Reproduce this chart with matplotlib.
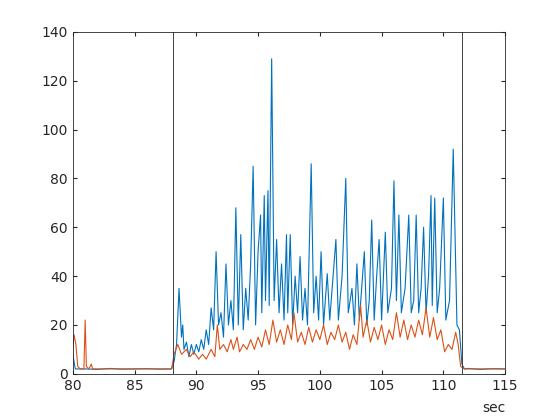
import matplotlib
matplotlib.use("Agg")
import matplotlib.pyplot as plt

blue_t = [80.0, 80.1, 80.2, 81, 82, 83, 84, 85, 86, 87, 88.0, 88.2, 88.4, 88.6, 88.8, 88.9, 89.0, 89.2, 89.4, 89.6, 89.8, 90.0, 90.2, 90.4, 90.6, 90.8, 91.0, 91.2, 91.4, 91.6, 91.8, 92.0, 92.2, 92.4, 92.6, 92.8, 93.0, 93.2, 93.4, 93.6, 93.8, 94.0, 94.2, 94.4, 94.6, 94.8, 95.0, 95.2, 95.3, 95.5, 95.6, 95.8, 95.9, 96.1, 96.3, 96.5, 96.7, 96.9, 97.1, 97.3, 97.4, 97.6, 97.8, 98.0, 98.2, 98.4, 98.6, 98.8, 99.0, 99.3, 99.5, 99.7, 99.9, 100.1, 100.3, 100.6, 100.8, 101.0, 101.3, 101.5, 101.8, 102.1, 102.3, 102.6, 102.8, 103.0, 103.2, 103.6, 103.8, 104.0, 104.2, 104.4, 104.6, 104.8, 105.0, 105.3, 105.5, 105.8, 106.0, 106.2, 106.4, 106.6, 106.9, 107.2, 107.4, 107.6, 107.8, 108.0, 108.2, 108.4, 108.6, 108.8, 109.0, 109.1, 109.3, 109.5, 109.7, 110.0, 110.2, 110.5, 110.8, 111.0, 111.1, 111.3, 111.5, 111.7, 112, 113, 114, 115]
blue_v = [8, 5, 2, 2, 1.8, 2.2, 1.9, 2, 2.1, 1.9, 2, 5, 12, 35, 15, 20, 10, 13, 7, 12, 8, 12, 9, 14, 10, 18, 12, 27, 18, 50, 20, 25, 15, 45, 20, 30, 18, 68, 20, 57, 18, 35, 22, 45, 85, 20, 50, 65, 25, 73, 30, 75, 28, 129, 30, 55, 25, 45, 22, 57, 25, 57, 20, 40, 25, 48, 22, 35, 20, 86, 25, 40, 22, 50, 20, 41, 22, 35, 55, 22, 40, 80, 25, 35, 20, 45, 22, 50, 20, 30, 63, 22, 40, 55, 22, 58, 25, 35, 79, 30, 65, 25, 35, 65, 25, 30, 65, 25, 35, 60, 25, 40, 73, 28, 72, 25, 35, 72, 22, 30, 92, 45, 20, 18, 4, 2, 2.2, 1.8, 2.1, 2]

orange_t = [80.0, 80.1, 80.25, 80.4, 80.6, 80.9, 81.0, 81.1, 81.3, 81.5, 81.6, 83, 85, 87, 88.0, 88.2, 88.5, 88.8, 89.2, 89.5, 89.8, 90.2, 90.5, 90.8, 91.2, 91.5, 91.7, 91.9, 92.2, 92.5, 92.8, 93.0, 93.3, 93.5, 93.8, 94.1, 94.4, 94.7, 95.0, 95.3, 95.6, 95.9, 96.2, 96.5, 96.8, 97.1, 97.4, 97.7, 97.9, 98.2, 98.5, 98.8, 99.1, 99.4, 99.7, 100.0, 100.3, 100.6, 100.9, 101.2, 101.5, 101.8, 102.1, 102.4, 102.7, 103.0, 103.3, 103.5, 103.8, 104.1, 104.4, 104.7, 105.0, 105.3, 105.6, 105.9, 106.2, 106.5, 106.8, 107.1, 107.4, 107.7, 108.0, 108.3, 108.6, 108.9, 109.2, 109.5, 109.8, 110.1, 110.4, 110.7, 111.0, 111.2, 111.4, 111.7, 113, 115]
orange_v = [10, 16, 12, 3, 2, 2, 22, 3, 2, 4, 2, 2, 2, 2, 2, 8, 12, 8, 10, 7, 9, 6, 8, 6, 10, 7, 20, 10, 12, 9, 14, 10, 15, 9, 12, 10, 14, 10, 15, 11, 18, 12, 22, 13, 18, 12, 20, 14, 25, 13, 17, 12, 19, 13, 18, 14, 20, 12, 17, 14, 20, 13, 17, 10, 16, 12, 28, 15, 22, 13, 19, 14, 20, 12, 18, 14, 25, 15, 22, 14, 20, 15, 22, 16, 27, 15, 23, 14, 18, 9, 12, 10, 17, 12, 3, 2, 2, 2]

vlines = [88.1, 111.5]

fig = plt.figure(figsize=(5.6, 4.2), dpi=100)
ax = fig.add_axes([0.13, 0.11, 0.772, 0.814])
ax.plot(blue_t, blue_v, color='#0072BD', lw=0.8)
ax.plot(orange_t, orange_v, color='#D95319', lw=0.8)
for v in vlines:
    ax.axvline(v, color='#404040', lw=0.7)
ax.set_xlim(80, 115)
ax.set_ylim(0, 140)
ax.set_xticks(range(80, 116, 5))
ax.set_yticks(range(0, 141, 20))
ax.tick_params(direction='in', length=3, labelsize=10, colors='#262626', top=True, right=True)
for s in ax.spines.values():
    s.set_color('#262626'); s.set_linewidth(0.6)
ax.text(1.0, -0.1, 'sec', transform=ax.transAxes, ha='right', va='center', fontsize=10, color='#262626')
fig.savefig('out.png')
